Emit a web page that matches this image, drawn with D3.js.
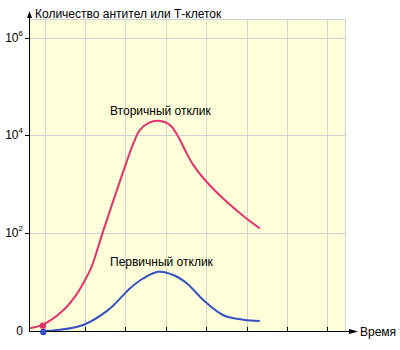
<!DOCTYPE html>
<html>
<head>
<meta charset="utf-8">
<script src="https://cdn.jsdelivr.net/npm/d3@7"></script>
<style>
  html, body { margin: 0; padding: 0; background: #fff; }
  svg { display: block; font-family: "Liberation Sans", Arial, sans-serif; }
</style>
</head>
<body>
<svg id="chart" width="400" height="350"></svg>
<script>
// Time (grid units) and antibody / T-cell counts
const secondaryTime  = [-0.38, -0.04, 0.43, 0.75, 0.96, 1.17, 1.33, 1.46, 1.82, 2.20, 2.36, 2.57, 2.82, 3.11, 3.31, 3.52, 3.68, 4.01, 4.51, 5.00, 5.33];
const secondaryCount = [1.14, 1.35, 2.5, 5.0, 9.5, 21, 53, 116, 890, 6900, 12900, 17800, 19900, 16300, 9400, 4300, 2500, 1130, 440, 200, 126];
const primaryTime    = [-0.03, 0.34, 0.96, 1.58, 2.12, 2.45, 2.82, 3.19, 3.52, 3.97, 4.43, 4.92, 5.33];
const primaryCount   = [1, 1.05, 1.33, 2.7, 7.5, 12, 16.3, 14, 9.5, 4.0, 2.1, 1.7, 1.6];
const startTime      = [-0.04, -0.03];
const startCount     = [1.35, 1];
const yTickValues    = [1, 1e2, 1e4, 1e6];
const yTickExponents = [null, 2, 4, 6];
const xGridTicks     = [0, 1, 2, 3, 4, 5, 6, 7];
const seriesLabels   = ["Вторичный отклик", "Первичный отклик"];
const yAxisTitle     = "Количество антител или Т-клеток";
const xAxisTitle     = "Время";

const svg = d3.select("#chart");
const plotLeft = 29, plotRight = 345, plotTop = 19, plotBottom = 331;

const x = d3.scaleLinear().domain([0, 7]).range([44.5, 327.3]);
const y = d3.scaleLog().domain([1, 1e6]).range([plotBottom, 37.7]);

const red = "#e2336c", blue = "#3652c2", grid = "#d2d2d2";

// plot background
svg.append("rect")
  .attr("x", plotLeft).attr("y", plotTop)
  .attr("width", plotRight - plotLeft).attr("height", plotBottom - plotTop)
  .attr("fill", "#ffffd9");

// grid
const g = svg.append("g").attr("stroke", grid).attr("stroke-width", 1).attr("shape-rendering", "crispEdges");
g.selectAll(".vx").data(xGridTicks).join("line")
  .attr("x1", d => Math.round(x(d)) + 0.5).attr("x2", d => Math.round(x(d)) + 0.5)
  .attr("y1", plotTop).attr("y2", plotBottom);
g.selectAll(".hy").data(yTickValues.slice(1)).join("line")
  .attr("x1", plotLeft).attr("x2", plotRight)
  .attr("y1", d => Math.round(y(d)) + 0.5).attr("y2", d => Math.round(y(d)) + 0.5);
g.append("line").attr("x1", plotLeft).attr("x2", plotRight).attr("y1", plotTop + 0.5).attr("y2", plotTop + 0.5);
g.append("line").attr("x1", plotRight + 0.5).attr("x2", plotRight + 0.5).attr("y1", plotTop).attr("y2", plotBottom);

// curves
const line = d3.line()
  .x(d => x(d[0])).y(d => y(d[1]))
  .curve(d3.curveCatmullRom.alpha(0.5));

svg.append("path")
  .datum(d3.zip(secondaryTime, secondaryCount))
  .attr("d", line).attr("fill", "none")
  .attr("stroke", red).attr("stroke-width", 2);

svg.append("path")
  .datum(d3.zip(primaryTime, primaryCount))
  .attr("d", line).attr("fill", "none")
  .attr("stroke", blue).attr("stroke-width", 2);

// axes
const ax = svg.append("g").attr("stroke", "#000").attr("shape-rendering", "crispEdges");
ax.append("line").attr("x1", plotLeft + 0.5).attr("x2", plotLeft + 0.5).attr("y1", plotBottom + 1).attr("y2", 15);
ax.append("line").attr("x1", plotLeft).attr("x2", 350).attr("y1", plotBottom + 0.5).attr("y2", plotBottom + 0.5);
svg.append("path").attr("d", `M${plotLeft + 0.5},11 L${plotLeft - 2},18 L${plotLeft + 3},18 Z`).attr("fill", "#000");
svg.append("path").attr("d", `M358,${plotBottom + 0.5} L349,${plotBottom - 2} L349,${plotBottom + 3} Z`).attr("fill", "#000");

// x ticks (inward)
ax.selectAll(".xt").data(xGridTicks.slice(1)).join("line")
  .attr("x1", d => Math.round(x(d)) + 0.5).attr("x2", d => Math.round(x(d)) + 0.5)
  .attr("y1", plotBottom).attr("y2", plotBottom - 4);
// y ticks
ax.selectAll(".yt").data(yTickValues.slice(1)).join("line")
  .attr("x1", plotLeft - 4).attr("x2", plotLeft)
  .attr("y1", d => Math.round(y(d)) + 0.5).attr("y2", d => Math.round(y(d)) + 0.5);

// start markers
svg.selectAll(".dot").data(d3.zip(startTime, startCount)).join("circle")
  .attr("cx", d => x(d[0])).attr("cy", d => y(d[1]) + 1)
  .attr("r", 3.2)
  .attr("fill", (d, i) => i === 0 ? red : blue);

// y tick labels
const yl = svg.selectAll(".yl").data(d3.zip(yTickValues, yTickExponents)).join("text")
  .attr("x", 23).attr("y", d => y(d[0]) + 4)
  .attr("text-anchor", "end")
  .attr("font-size", 12).attr("fill", "#000");
yl.each(function(d) {
  const t = d3.select(this);
  if (d[1] === null) { t.text("0"); return; }
  t.append("tspan").text("10");
  t.append("tspan").attr("font-size", 8).attr("dy", -6).text(d[1]);
});

// titles and series labels
svg.append("text").attr("x", 35).attr("y", 18).attr("font-size", 12).text(yAxisTitle);
svg.append("text").attr("x", 360).attr("y", 336).attr("font-size", 12).text(xAxisTitle);
svg.append("text").attr("x", 110).attr("y", 115).attr("font-size", 12).text(seriesLabels[0]);
svg.append("text").attr("x", 110).attr("y", 266).attr("font-size", 12).text(seriesLabels[1]);
</script>
</body>
</html>
